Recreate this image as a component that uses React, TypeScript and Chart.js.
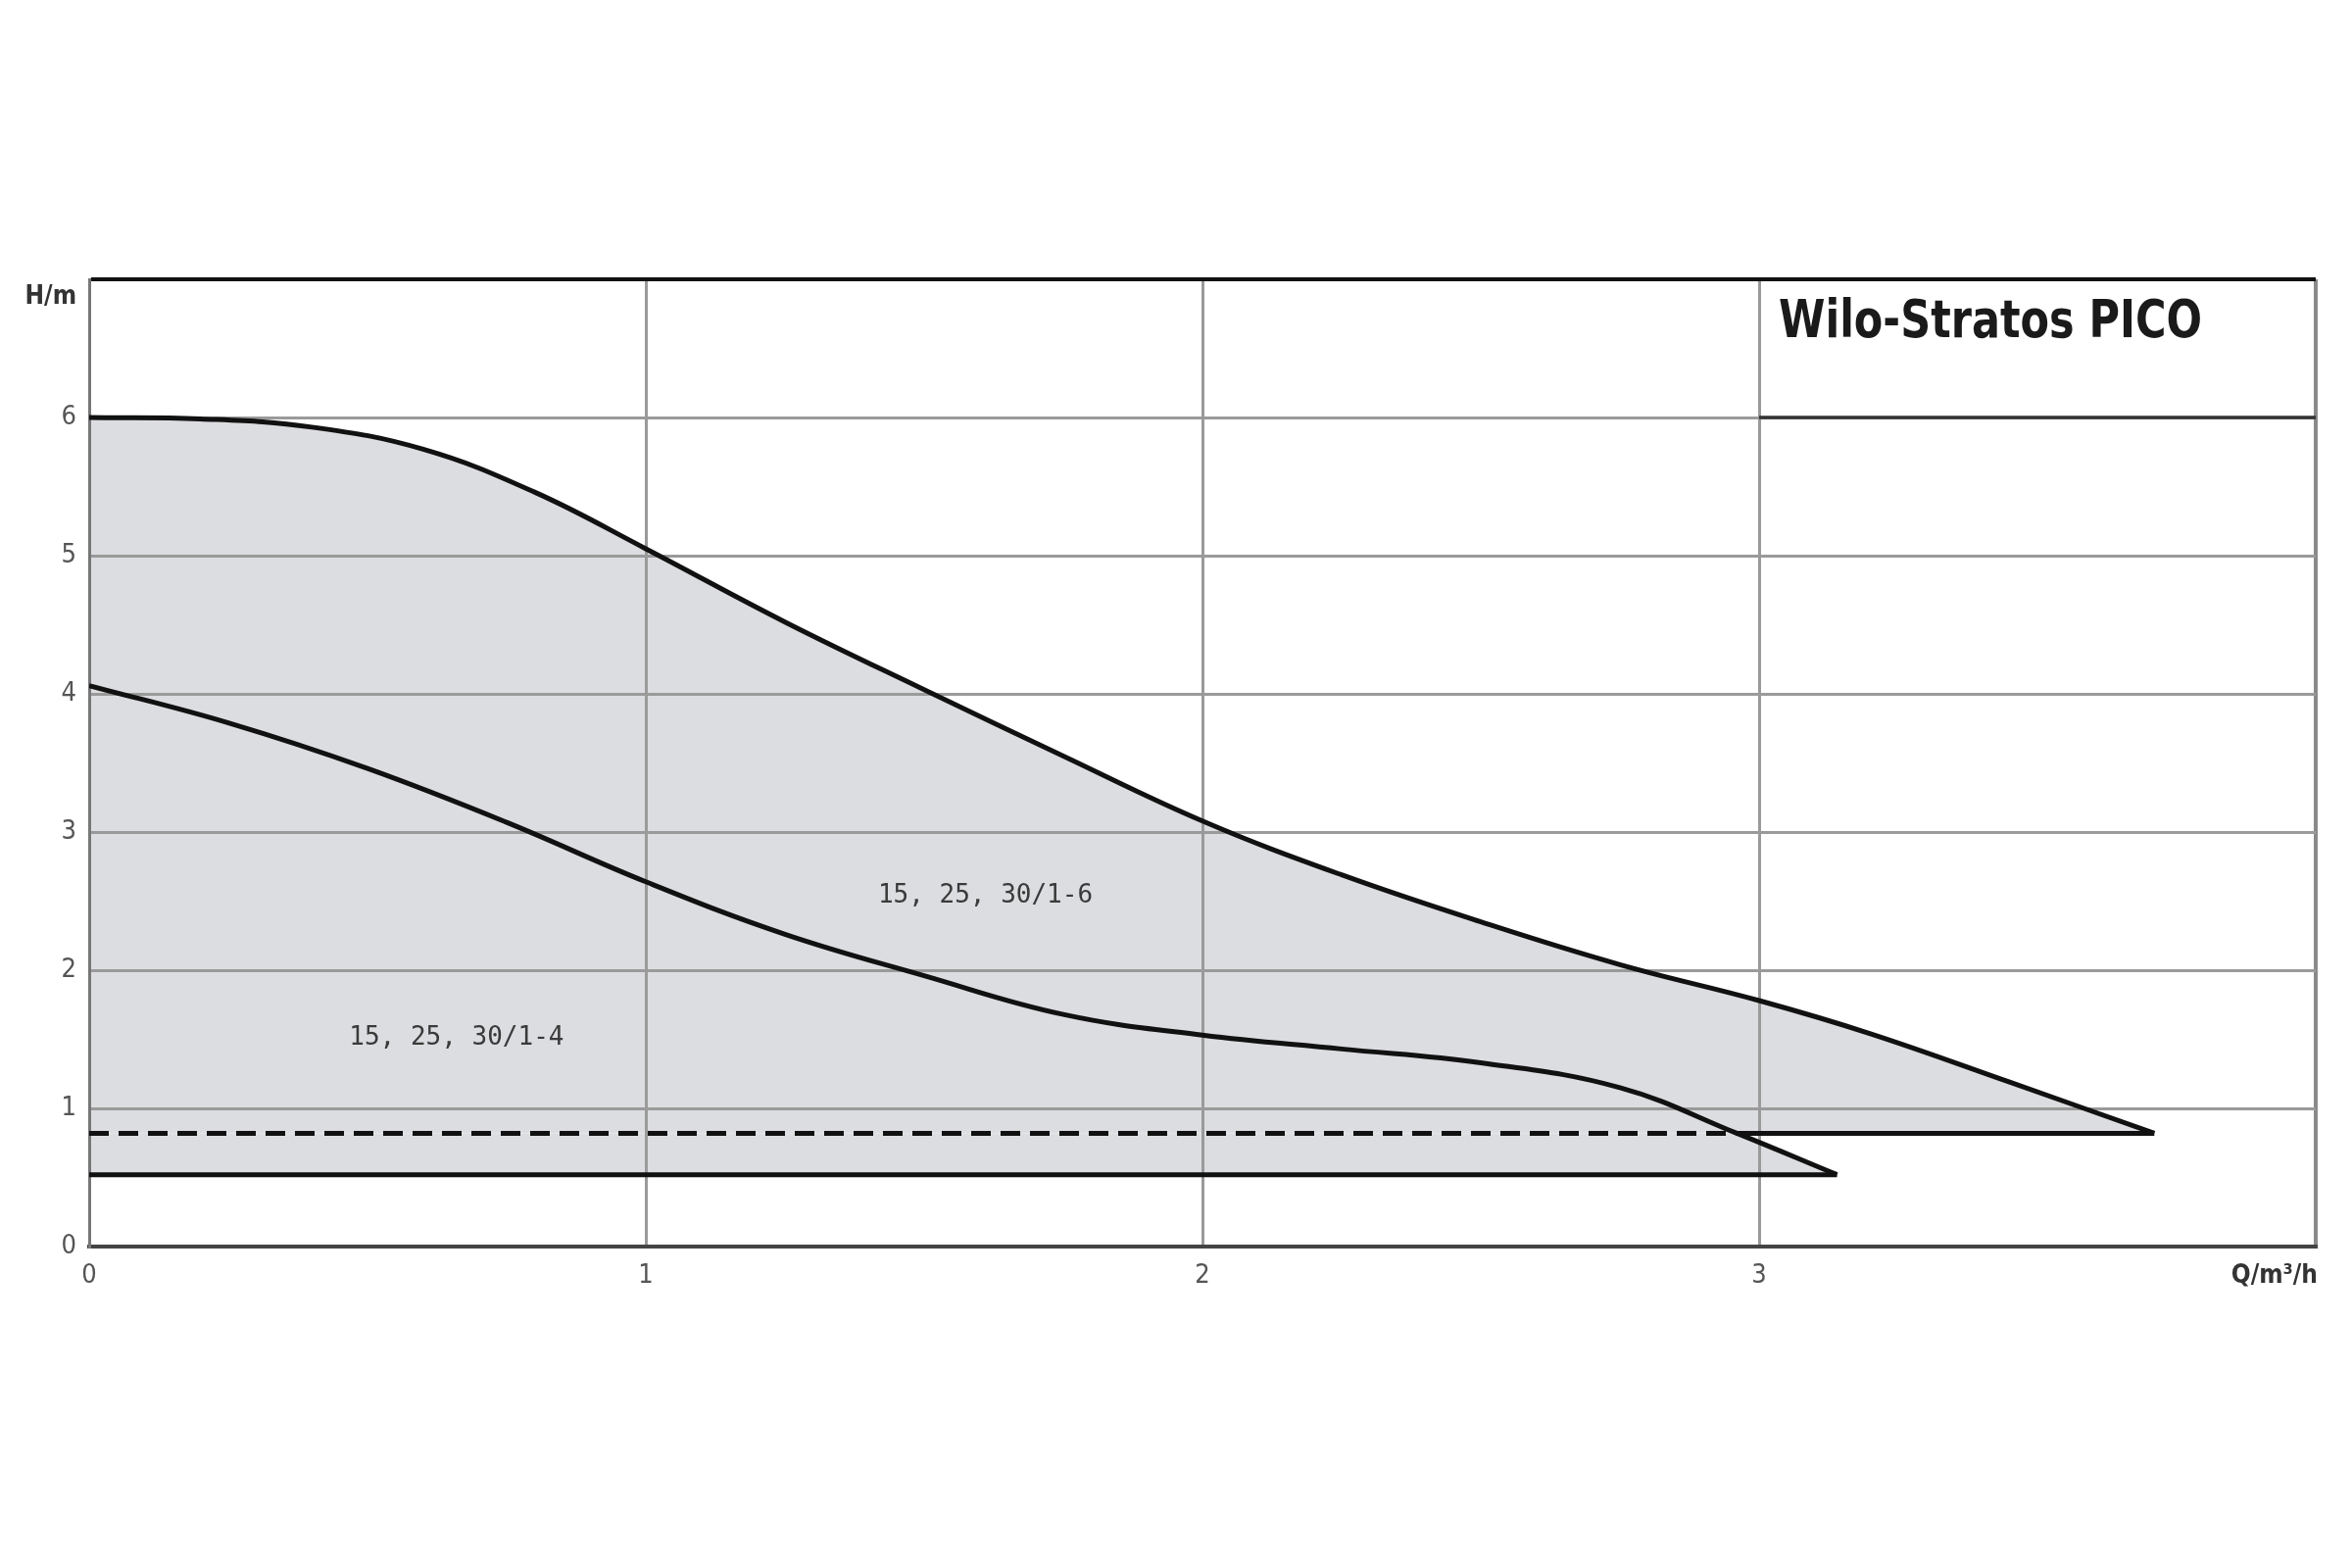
import React, { useEffect, useRef } from 'react';
import { Chart, registerables } from 'chart.js';

Chart.register(...registerables);

// ---- Data ----
const curve16Q = [0, 0.2, 0.4, 0.6, 0.8, 1, 1.25, 1.5, 1.75, 2, 2.25, 2.5, 2.75, 3, 3.2, 3.45, 3.71];
const curve16H = [6.0, 5.99, 5.93, 5.77, 5.46, 5.05, 4.52, 4.03, 3.55, 3.08, 2.69, 2.35, 2.04, 1.78, 1.54, 1.19, 0.82];
const curve14Q = [0, 0.25, 0.5, 0.75, 1, 1.25, 1.5, 1.75, 2, 2.25, 2.5, 2.75, 2.96, 3.14];
const curve14H = [4.06, 3.79, 3.46, 3.07, 2.64, 2.26, 1.96, 1.68, 1.53, 1.43, 1.33, 1.15, 0.82, 0.52];
const minHead16 = 0.82;
const minHead14 = 0.52;
const crossQ = 2.96;
const xTickLabels = ['0', '1', '2', '3', ''];
const yTickLabels = ['0', '1', '2', '3', '4', '5', '6', ''];
const seriesLabels = ['15, 25, 30/1-6', '15, 25, 30/1-4'];
const seriesLabelQ = [1.61, 0.66];
const seriesLabelH = [2.54, 1.51];
const chartTitle = 'Wilo-Stratos PICO';
const yAxisTitle = 'H/m';
const xAxisTitle = 'Q/m³/h';

const FILL = '#dcdde0';
const INK = '#111111';
const GRID = '#9a9a9a';

const pts = (xs: number[], ys: number[]) => xs.map((x, i) => ({ x, y: ys[i] }));

const annotPlugin = {
  id: 'annot',
  afterDatasetsDraw(chart: any) {
    const { ctx, chartArea } = chart;
    const x = chart.scales.x;
    const y = chart.scales.y;
    ctx.save();
    // title box bottom edge
    ctx.strokeStyle = '#333';
    ctx.lineWidth = 3.5;
    ctx.beginPath();
    ctx.moveTo(x.getPixelForValue(3), y.getPixelForValue(6));
    ctx.lineTo(x.getPixelForValue(4), y.getPixelForValue(6));
    ctx.stroke();
    // title
    ctx.fillStyle = '#1a1a1a';
    ctx.font = 'bold 53px "DejaVu Sans Condensed"';
    ctx.textAlign = 'left';
    ctx.textBaseline = 'alphabetic';
    ctx.fillText(chartTitle, x.getPixelForValue(3) + 20, chartArea.top + 59, 432);
    // series labels
    ctx.fillStyle = '#3a3a3a';
    ctx.font = '26px "DejaVu Sans Mono"';
    ctx.textAlign = 'center';
    ctx.textBaseline = 'middle';
    seriesLabels.forEach((t, i) => {
      ctx.fillText(t, x.getPixelForValue(seriesLabelQ[i]), y.getPixelForValue(seriesLabelH[i]));
    });
    ctx.restore();
  },
  afterDraw(chart: any) {
    const { ctx, chartArea } = chart;
    ctx.save();
    ctx.fillStyle = '#333';
    ctx.font = 'bold 26px "DejaVu Sans Condensed"';
    ctx.textBaseline = 'middle';
    ctx.textAlign = 'right';
    ctx.fillText(yAxisTitle, chartArea.left - 13, chartArea.top + 18);
    ctx.fillText(xAxisTitle, chartArea.right + 2, chartArea.bottom + 30);
    ctx.restore();
  },
};

export default function App() {
  const ref = useRef<HTMLCanvasElement | null>(null);
  useEffect(() => {
    if (!ref.current) return;
    const upper = pts(curve16Q, curve16H);
    const lower = pts(curve14Q, curve14H);
    const lowerBoundary = [
      { x: 0, y: minHead16 },
      ...lower.filter((p) => p.x >= crossQ),
    ];
    const chart = new Chart(ref.current, {
      type: 'line',
      data: {
        datasets: [
          {
            label: seriesLabels[0],
            data: upper,
            borderColor: INK,
            borderWidth: 5,
            backgroundColor: FILL,
            fill: { value: minHead16 },
            pointRadius: 0,
            tension: 0.4,
          },
          {
            label: 'area-1-4',
            data: lowerBoundary,
            borderWidth: 0,
            borderColor: 'rgba(0,0,0,0)',
            backgroundColor: FILL,
            fill: { value: minHead14 },
            pointRadius: 0,
            tension: 0,
          },
          {
            label: seriesLabels[1],
            data: lower,
            borderColor: INK,
            borderWidth: 5,
            fill: false,
            pointRadius: 0,
            tension: 0.4,
          },
          {
            label: 'min-1-6-dashed',
            data: [
              { x: 0, y: minHead16 },
              { x: crossQ, y: minHead16 },
            ],
            borderColor: INK,
            borderWidth: 5,
            borderDash: [20, 10],
            fill: false,
            pointRadius: 0,
          },
          {
            label: 'min-1-6',
            data: [
              { x: crossQ, y: minHead16 },
              { x: curve16Q[curve16Q.length - 1], y: minHead16 },
            ],
            borderColor: INK,
            borderWidth: 5,
            fill: false,
            pointRadius: 0,
          },
          {
            label: 'min-1-4',
            data: [
              { x: 0, y: minHead14 },
              { x: curve14Q[curve14Q.length - 1], y: minHead14 },
            ],
            borderColor: INK,
            borderWidth: 5,
            fill: false,
            pointRadius: 0,
          },
        ],
      },
      options: {
        responsive: false,
        animation: false,
        devicePixelRatio: 1,
        layout: { padding: { top: 285, right: 37, left: 0, bottom: 0 } },
        plugins: {
          legend: { display: false },
          tooltip: { enabled: false },
          filler: { drawTime: 'beforeDraw' },
        },
        scales: {
          x: {
            type: 'linear',
            min: 0,
            max: 4,
            afterFit: (axis: any) => {
              axis.height = 328;
            },
            ticks: {
              stepSize: 1,
              padding: 14,
              color: '#555',
              font: { family: '"DejaVu Sans Condensed"', size: 27 },
              callback: (v: any) => xTickLabels[Math.round(Number(v))] ?? '',
              maxRotation: 0,
            },
            grid: {
              drawTicks: false,
              color: (c: any) => (c.tick && c.tick.value === 4 ? '#8a8a8a' : GRID),
              lineWidth: (c: any) => (c.tick && c.tick.value === 4 ? 4 : 3),
            },
            border: { display: true, color: '#444', width: 4 },
          },
          y: {
            type: 'linear',
            min: 0,
            max: 7,
            afterFit: (axis: any) => {
              axis.width = 91;
            },
            ticks: {
              stepSize: 1,
              padding: 13,
              color: '#555',
              font: { family: '"DejaVu Sans Condensed"', size: 27 },
              callback: (v: any) => yTickLabels[Math.round(Number(v))] ?? '',
            },
            grid: {
              drawTicks: false,
              color: (c: any) => (c.tick && c.tick.value === 7 ? '#111' : GRID),
              lineWidth: (c: any) => (c.tick && c.tick.value === 7 ? 4 : 3),
            },
            border: { display: true, color: '#777', width: 3 },
          },
        },
      } as any,
      plugins: [annotPlugin],
    });
    return () => chart.destroy();
  }, []);
  return (
    <div style={{ position: 'absolute', left: 0, top: 0, width: 2400, height: 1600, background: '#fff' }}>
      <canvas ref={ref} width={2400} height={1600} style={{ display: 'block' }} />
    </div>
  );
}
